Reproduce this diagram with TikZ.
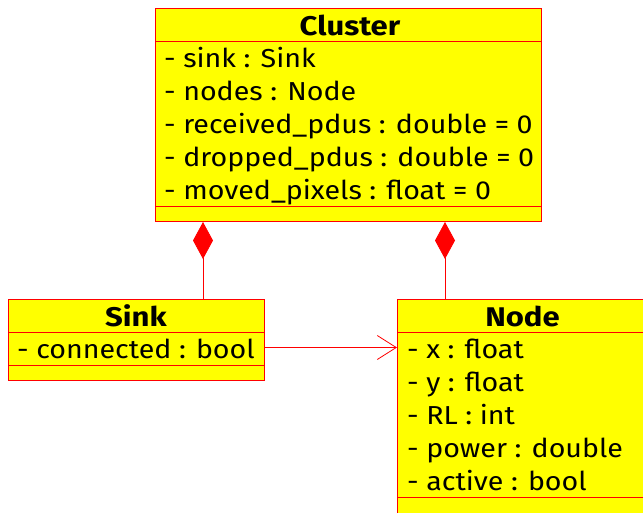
\documentclass[tikz,border=0pt]{standalone}
\usepackage{fontspec}
\setmainfont{Fira Sans}[FakeStretch=1.10]
\newfontfamily\titlefont{Fira Sans}[FakeStretch=1.15,UprightFont=*-Bold]
\usetikzlibrary{arrows.meta}
\definecolor{umlfill}{RGB}{255,255,0}
\definecolor{umlline}{RGB}{255,0,0}
\tikzset{
  compart/.style={draw=umlline, fill=umlfill, line width=1pt, inner sep=0pt,
    anchor=north west},
  title/.style={inner sep=0pt, anchor=base, font=\titlefont\fontsize{27}{27}\selectfont},
  attr/.style={inner sep=0pt, anchor=base west, font=\fontsize{26}{26}\selectfont},
  assoc/.style={draw=umlline, line width=0.8pt},
  compose/.style={assoc, {Diamond[length=37pt,width=20pt,fill=umlline]}-},
  navig/.style={assoc, -{Straight Barb[length=19pt,width=24pt,line width=0.8pt]}}
}
\begin{document}
\begin{tikzpicture}[x=1pt,y=-1pt]
\useasboundingbox (0,0) rectangle (643,512);
\clip (0,0) rectangle (643,512);
\fill[white] (0,0) rectangle (643,512);

% Cluster class
\node[compart, minimum width=386pt, minimum height=33pt] (clT) at (155,7.5) {};
\node[compart, minimum width=386pt, minimum height=165.5pt] (clA) at (155,40.5) {};
\node[compart, minimum width=386pt, minimum height=14.5pt] (clO) at (155,206) {};
\node[title] (clN) at (350,35) {Cluster};
\node[attr] (cl1) at (164,67.5) {- sink : Sink};
\node[attr] (cl2) at (164,100.5) {- nodes : Node};
\node[attr] (cl3) at (164,133.5) {- received\_pdus : double = 0};
\node[attr] (cl4) at (164,166.5) {- dropped\_pdus : double = 0};
\node[attr] (cl5) at (164,199.5) {- moved\_pixels : float = 0};

% Sink class
\node[compart, minimum width=256pt, minimum height=33pt] (skT) at (8,299) {};
\node[compart, minimum width=256pt, minimum height=33pt] (skA) at (8,332) {};
\node[compart, minimum width=256pt, minimum height=15pt] (skO) at (8,365) {};
\node[title] (skN) at (136,326) {Sink};
\node[attr] (sk1) at (17,358) {- connected : bool};

% Node class
\node[compart, minimum width=251pt, minimum height=33pt] (ndT) at (397,299) {};
\node[compart, minimum width=251pt, minimum height=165pt] (ndA) at (397,332) {};
\node[compart, minimum width=251pt, minimum height=16pt] (ndO) at (397,497) {};
\node[title] (ndN) at (522.5,326) {Node};
\node[attr] (nd1) at (407,358) {- x : float};
\node[attr] (nd2) at (407,391) {- y : float};
\node[attr] (nd3) at (407,424) {- RL : int};
\node[attr] (nd4) at (407,457) {- power : double};
\node[attr] (nd5) at (407,490) {- active : bool};

% Composition links from Cluster
\coordinate (jSink) at (203,222);
\coordinate (jNode) at (445,222);
\draw[compose] (jSink) -- (jSink |- skT.north);
\draw[compose] (jNode) -- (jNode |- ndT.north);

% Navigable association Sink -> Node
\draw[navig] (skA.east |- 0,347.5) -- (ndA.west |- 0,347.5);
\end{tikzpicture}
\end{document}
